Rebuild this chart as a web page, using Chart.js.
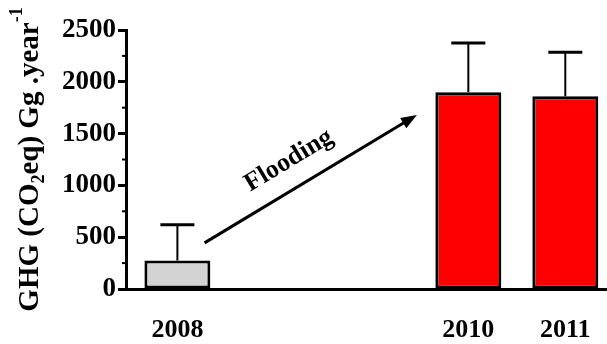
<!DOCTYPE html>
<html>
<head>
<meta charset="utf-8">
<script src="https://cdn.jsdelivr.net/npm/chart.js@4"></script>
<style>
  html, body { margin: 0; padding: 0; background: #fff; overflow: hidden; }
  #wrap { width: 607px; height: 344px; }
</style>
</head>
<body>
<div id="wrap"><canvas id="ghgChart" width="607" height="344"></canvas></div>
<script>
// Datos (huecos en 2009 para dejar sitio a la flecha)
const categorias = ['2008', '', '', '2010', '2011'];
const ghg = [275, null, null, 1900, 1860];
const desviacion = [345, null, null, 475, 425];
const colores = ['#d3d3d3', null, null, '#ff0000', '#ff0000'];
const ticksY = [0, 500, 1000, 1500, 2000, 2500];

// Flecha "Flooding" en coordenadas de datos
const flechaInicio = { x: 0.28, y: 445 };
const flechaFin = { x: 2.47, y: 1680 };
const textoFlecha = { x: 1.15, y: 1240, texto: 'Flooding' };

const FUENTE = "'Liberation Serif', 'DejaVu Serif', 'Times New Roman', serif";

const puntos = [];
const coloresBarras = [];
categorias.forEach((c, i) => {
    if (ghg[i] !== null) {
        puntos.push({ x: i, y: ghg[i], sd: desviacion[i] });
        coloresBarras.push(colores[i]);
    }
});

// Barras de error, marcas menores, flecha y título del eje Y
const extras = {
    id: 'extras',
    afterDatasetsDraw(chart) {
        const { ctx, scales: { x, y } } = chart;
        ctx.save();
        ctx.strokeStyle = '#000';
        puntos.forEach(p => {
            const px = x.getPixelForValue(p.x);
            const top = y.getPixelForValue(p.y);
            const cap = y.getPixelForValue(p.y + p.sd);
            ctx.lineWidth = 2;
            ctx.beginPath();
            ctx.moveTo(px, top);
            ctx.lineTo(px, cap);
            ctx.stroke();
            ctx.lineWidth = 3;
            ctx.beginPath();
            ctx.moveTo(px - 17, cap);
            ctx.lineTo(px + 17, cap);
            ctx.stroke();
        });
        ctx.restore();
    },
    afterDraw(chart) {
        const { ctx, scales: { x, y }, chartArea } = chart;
        ctx.save();

        // marcas menores del eje Y
        ctx.strokeStyle = '#000';
        ctx.lineWidth = 2;
        for (let v = 250; v < 2500; v += 500) {
            const py = y.getPixelForValue(v);
            ctx.beginPath();
            ctx.moveTo(chartArea.left - 4, py);
            ctx.lineTo(chartArea.left, py);
            ctx.stroke();
        }

        // flecha
        const x1 = x.getPixelForValue(flechaInicio.x), y1 = y.getPixelForValue(flechaInicio.y);
        const x2 = x.getPixelForValue(flechaFin.x), y2 = y.getPixelForValue(flechaFin.y);
        const ang = Math.atan2(y2 - y1, x2 - x1);
        const largo = 16, ancho = 6;
        ctx.lineWidth = 3;
        ctx.beginPath();
        ctx.moveTo(x1, y1);
        ctx.lineTo(x2 - Math.cos(ang) * largo * 0.8, y2 - Math.sin(ang) * largo * 0.8);
        ctx.stroke();
        ctx.fillStyle = '#000';
        ctx.beginPath();
        ctx.moveTo(x2, y2);
        ctx.lineTo(x2 - Math.cos(ang) * largo - Math.sin(ang) * ancho, y2 - Math.sin(ang) * largo + Math.cos(ang) * ancho);
        ctx.lineTo(x2 - Math.cos(ang) * largo + Math.sin(ang) * ancho, y2 - Math.sin(ang) * largo - Math.cos(ang) * ancho);
        ctx.closePath();
        ctx.fill();

        // texto sobre la flecha
        ctx.save();
        ctx.translate(x.getPixelForValue(textoFlecha.x), y.getPixelForValue(textoFlecha.y));
        ctx.rotate(ang);
        ctx.font = 'bold 26px ' + FUENTE;
        ctx.textAlign = 'center';
        ctx.textBaseline = 'middle';
        ctx.fillText(textoFlecha.texto, 0, 0);
        ctx.restore();

        // título del eje Y con subíndice y superíndice
        const partes = [
            { t: 'GHG (CO', s: 29, dy: 0 },
            { t: '2', s: 18, dy: 6 },
            { t: 'eq) Gg .year', s: 29, dy: 0 },
            { t: '-1', s: 18, dy: -16 }
        ];
        ctx.save();
        ctx.translate(38, (chartArea.top + chartArea.bottom) / 2);
        ctx.rotate(-Math.PI / 2);
        let total = 0;
        partes.forEach(p => {
            ctx.font = 'bold ' + p.s + 'px ' + FUENTE;
            p.w = ctx.measureText(p.t).width;
            total += p.w;
        });
        let pos = -total / 2;
        ctx.textAlign = 'left';
        ctx.textBaseline = 'alphabetic';
        partes.forEach(p => {
            ctx.font = 'bold ' + p.s + 'px ' + FUENTE;
            ctx.fillText(p.t, pos, p.dy);
            pos += p.w;
        });
        ctx.restore();

        ctx.restore();
    }
};

const ctx = document.getElementById('ghgChart').getContext('2d');
const chart = new Chart(ctx, {
    type: 'bar',
    data: {
        datasets: [{
            data: puntos,
            backgroundColor: coloresBarras,
            borderColor: '#000',
            borderWidth: 3,
            borderSkipped: false,
            categoryPercentage: 1,
            barPercentage: 0.68
        }]
    },
    options: {
        responsive: false,
        animation: false,
        layout: { padding: { top: 30, right: 0, bottom: 0, left: 0 } },
        plugins: {
            legend: { display: false },
            tooltip: { enabled: false }
        },
        scales: {
            x: {
                type: 'linear',
                offset: false,
                min: -0.53,
                max: 4.43,
                grid: { display: false, drawTicks: false },
                border: { display: true, color: '#000', width: 3 },
                afterBuildTicks: scale => {
                    scale.ticks = categorias
                        .map((c, i) => ({ value: i }))
                        .filter(t => categorias[t.value] !== '');
                },
                ticks: {
                    color: '#000',
                    padding: 26,
                    autoSkip: false,
                    maxRotation: 0,
                    font: { family: FUENTE, size: 26, weight: 'bold' },
                    callback: v => categorias[v]
                },
                afterFit: scale => {
                    scale.height = 55;
                    scale.paddingLeft = 0;
                    scale.paddingRight = 0;
                }
            },
            y: {
                min: 0,
                max: 2500,
                afterBuildTicks: scale => {
                    scale.ticks = ticksY.map(v => ({ value: v }));
                },
                grid: { drawOnChartArea: false, tickLength: 8, tickWidth: 3, tickColor: '#000' },
                border: { display: true, color: '#000', width: 3 },
                ticks: {
                    color: '#000',
                    padding: 2,
                    font: { family: FUENTE, size: 27, weight: 'bold' },
                    callback: v => String(v)
                },
                afterFit: scale => { scale.width = 126; }
            }
        }
    },
    plugins: [extras]
});
</script>
</body>
</html>
